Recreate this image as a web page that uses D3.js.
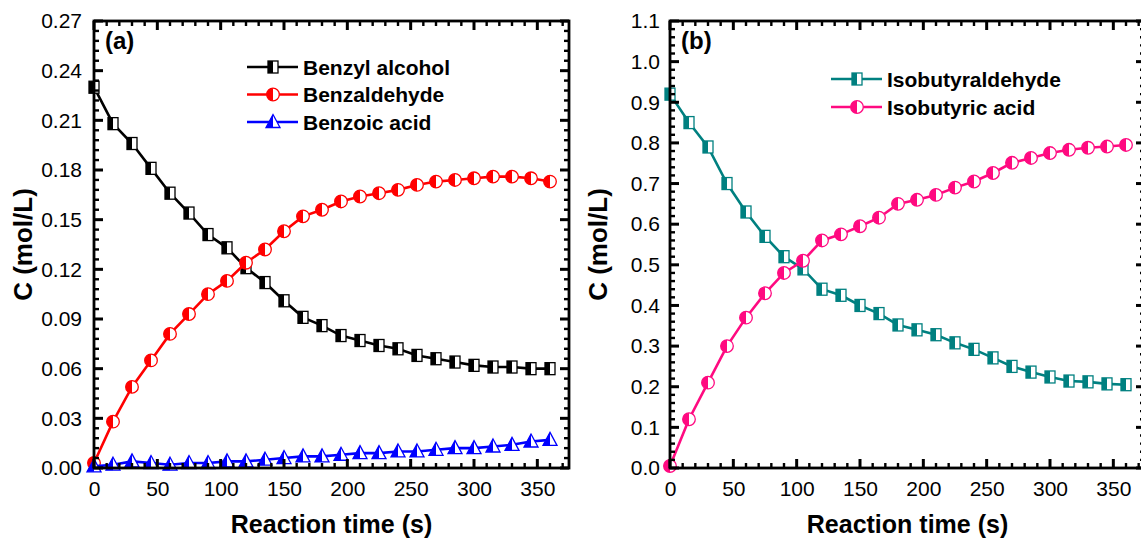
<!DOCTYPE html>
<html>
<head>
<meta charset="utf-8">
<script src="https://cdn.jsdelivr.net/npm/d3@7"></script>
<style>
  body { margin: 0; background: #fff; }
  svg { display: block; font-family: Arial, "Liberation Sans", sans-serif; }
  .eixo text { font-size: 21px; fill: #000; }
  .eixo path.domain { display: none; }
</style>
</head>
<body>
<svg id="grafico"></svg>
<script>
// tempo de reação (s)
const tempos = [0, 15, 30, 45, 60, 75, 90, 105, 120, 135, 150, 165, 180, 195, 210, 225, 240, 255, 270, 285, 300, 315, 330, 345, 360];

// painel (a)
const benzylAlcohol = [0.230, 0.208, 0.196, 0.181, 0.166, 0.154, 0.141, 0.133, 0.121, 0.112, 0.101, 0.091, 0.086, 0.080, 0.077, 0.074, 0.072, 0.068, 0.066, 0.064, 0.062, 0.061, 0.061, 0.060, 0.060];
const benzaldehyde = [0.003, 0.028, 0.049, 0.065, 0.081, 0.093, 0.105, 0.113, 0.124, 0.132, 0.143, 0.152, 0.156, 0.161, 0.164, 0.166, 0.168, 0.171, 0.173, 0.174, 0.175, 0.176, 0.176, 0.175, 0.173];
const benzoicAcid = [0.001, 0.002, 0.004, 0.003, 0.002, 0.003, 0.003, 0.004, 0.004, 0.005, 0.006, 0.007, 0.007, 0.008, 0.009, 0.009, 0.010, 0.010, 0.011, 0.012, 0.012, 0.013, 0.014, 0.016, 0.017];

// painel (b)
const isobutyraldehyde = [0.920, 0.850, 0.790, 0.700, 0.630, 0.570, 0.520, 0.490, 0.440, 0.425, 0.400, 0.380, 0.352, 0.340, 0.328, 0.308, 0.292, 0.271, 0.250, 0.236, 0.224, 0.214, 0.212, 0.207, 0.205];
const isobutyricAcid = [0.005, 0.120, 0.210, 0.300, 0.370, 0.430, 0.480, 0.510, 0.560, 0.575, 0.595, 0.616, 0.650, 0.660, 0.672, 0.690, 0.705, 0.726, 0.751, 0.763, 0.775, 0.783, 0.788, 0.791, 0.795];

// rótulos dos eixos
const ticksX = [0, 50, 100, 150, 200, 250, 300, 350];
const ticksYa = [0, 0.03, 0.06, 0.09, 0.12, 0.15, 0.18, 0.21, 0.24, 0.27];
const ticksYb = [0, 0.1, 0.2, 0.3, 0.4, 0.5, 0.6, 0.7, 0.8, 0.9, 1.0, 1.1];

let svg = d3.select('#grafico')
            .attr('width', 1141)
            .attr('height', 538);

function marcador(g, forma, cor) {
    if (forma === 'quadrado') {
        g.append('rect').attr('x', -5).attr('y', -6).attr('width', 10).attr('height', 12)
         .attr('fill', '#fff').attr('stroke', cor).attr('stroke-width', 1.3);
        g.append('rect').attr('x', -5).attr('y', -6).attr('width', 5).attr('height', 12)
         .attr('fill', cor);
    } else if (forma === 'circulo') {
        g.append('circle').attr('r', 6.3)
         .attr('fill', '#fff').attr('stroke', cor).attr('stroke-width', 1.3);
        g.append('path').attr('d', 'M0,-6.3A6.3,6.3 0 0 0 0,6.3Z').attr('fill', cor);
    } else {
        g.append('path').attr('d', 'M0,-7.5L7,5.5L-7,5.5Z')
         .attr('fill', '#fff').attr('stroke', cor).attr('stroke-width', 1.3);
        g.append('path').attr('d', 'M0,-7.5L0,5.5L-7,5.5Z').attr('fill', cor);
    }
}

function painel(p) {
    let plot = svg.append('g');

    let topo = 21, base = 468;
    let esq = p.x0, dir = p.x0 + 475;
    let fnX = d3.scaleLinear().domain([0, 375]).range([esq, dir]);
    let fnY = d3.scaleLinear().domain(p.dominioY).range([base, topo]);

    // séries
    let linha = d3.line().x((d, i) => fnX(tempos[i])).y(d => fnY(d));
    p.series.forEach(function (s) {
        plot.append('path')
            .attr('d', linha(s.valores))
            .attr('fill', 'none')
            .attr('stroke', s.cor)
            .attr('stroke-width', 2.6);
        plot.selectAll(null)
            .data(s.valores)
            .enter()
            .append('g')
            .attr('transform', (d, i) => 'translate(' + fnX(tempos[i]) + ',' + fnY(d) + ')')
            .each(function () { marcador(d3.select(this), s.forma, s.cor); });
    });

    // legenda
    p.series.forEach(function (s, i) {
        let y = p.legenda.y + i * p.legenda.passo;
        let g = plot.append('g');
        g.append('line')
         .attr('x1', p.legenda.x).attr('x2', p.legenda.x + 51)
         .attr('y1', y).attr('y2', y)
         .attr('stroke', s.cor).attr('stroke-width', 2.6);
        marcador(g.append('g').attr('transform', 'translate(' + (p.legenda.x + 26) + ',' + y + ')'), s.forma, s.cor);
        g.append('text')
         .attr('x', p.legenda.x + 56).attr('y', y)
         .attr('dy', '0.36em')
         .style('font-size', '21px').style('font-weight', 'bold')
         .text(s.nome);
    });

    // rótulo do painel
    plot.append('text')
        .attr('x', esq + 11).attr('y', 49)
        .style('font-size', '24px').style('font-weight', 'bold')
        .text(p.rotulo);

    // títulos dos eixos
    plot.append('text')
        .attr('x', (esq + dir) / 2).attr('y', 533)
        .attr('text-anchor', 'middle')
        .style('font-size', '25px').style('font-weight', 'bold')
        .text('Reaction time (s)');

    plot.append('text')
        .attr('transform', 'translate(' + p.tituloY + ',' + (topo + base) / 2 + ') rotate(-90)')
        .attr('text-anchor', 'middle')
        .style('font-size', '26px').style('font-weight', 'bold')
        .text('C (mol/L)');

    // rótulos dos eixos (d3.axis)
    plot.append('g').attr('class', 'eixo').attr('transform', 'translate(0,' + base + ')')
        .call(d3.axisBottom(fnX).tickValues(ticksX).tickSize(0).tickPadding(13).tickFormat(d3.format('d')));
    plot.append('g').attr('class', 'eixo').attr('transform', 'translate(' + esq + ',0)')
        .call(d3.axisLeft(fnY).tickValues(p.ticksY).tickSize(0).tickPadding(p.padding).tickFormat(p.formato));

    // ticks para dentro nos quatro lados
    let menoresX = d3.range(0, 371, 10).filter(v => v % 50 !== 0);
    let menoresY = d3.range(0, p.dominioY[1] + 1e-9, p.passoMenor)
                     .filter(v => !p.ticksY.some(t => Math.abs(t - v) < 1e-9));

    let ticks = plot.append('g').attr('stroke', '#000');
    [[ticksX, 9, 3], [menoresX, 5, 2.4]].forEach(function (t) {
        [[base, -1], [topo, 1]].forEach(function (lado) {
            ticks.selectAll(null).data(t[0]).enter().append('line')
                .attr('x1', d => fnX(d)).attr('x2', d => fnX(d))
                .attr('y1', lado[0]).attr('y2', lado[0] + lado[1] * t[1])
                .attr('stroke-width', t[2]);
        });
    });
    [[p.ticksY, 9, 3], [menoresY, 5, 2.4]].forEach(function (t) {
        [[esq, 1], [dir, -1]].forEach(function (lado) {
            ticks.selectAll(null).data(t[0]).enter().append('line')
                .attr('y1', d => fnY(d)).attr('y2', d => fnY(d))
                .attr('x1', lado[0]).attr('x2', lado[0] + lado[1] * t[1])
                .attr('stroke-width', t[2]);
        });
    });

    // moldura
    plot.append('rect')
        .attr('x', esq).attr('y', topo)
        .attr('width', dir - esq).attr('height', base - topo)
        .attr('fill', 'none').attr('stroke', '#000').attr('stroke-width', 2.8);
}

painel({
    x0: 94,
    dominioY: [0, 0.27],
    ticksY: ticksYa,
    passoMenor: 0.006,
    formato: d3.format('.2f'),
    padding: 12,
    rotulo: '(a)',
    tituloY: 32,
    legenda: { x: 247, y: 67, passo: 27.5 },
    series: [
        { nome: 'Benzyl alcohol', valores: benzylAlcohol, cor: '#000000', forma: 'quadrado' },
        { nome: 'Benzaldehyde', valores: benzaldehyde, cor: '#ff0000', forma: 'circulo' },
        { nome: 'Benzoic acid', valores: benzoicAcid, cor: '#0000ff', forma: 'triangulo' }
    ]
});

painel({
    x0: 670,
    dominioY: [0, 1.1],
    ticksY: ticksYb,
    passoMenor: 0.02,
    formato: d3.format('.1f'),
    padding: 10,
    rotulo: '(b)',
    tituloY: 607,
    legenda: { x: 831, y: 79, passo: 28 },
    series: [
        { nome: 'Isobutyraldehyde', valores: isobutyraldehyde, cor: '#008080', forma: 'quadrado' },
        { nome: 'Isobutyric acid', valores: isobutyricAcid, cor: '#ff0a80', forma: 'circulo' }
    ]
});
</script>
</body>
</html>
